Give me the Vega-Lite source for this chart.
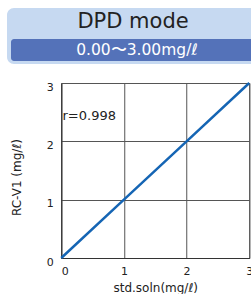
{
  "$schema": "https://vega.github.io/schema/vega-lite/v6.json",
  "padding": {"left": 7, "top": 8, "right": 0, "bottom": 0},
  "background": "white",
  "spacing": 13,
  "bounds": "full",
  "center": true,
  "config": {"font": "DejaVu Sans", "view": {"stroke": null}},
  "vconcat": [
    {
      "width": 302,
      "height": 56,
      "view": {"fill": "#c6d9f1", "cornerRadius": 7, "stroke": null},
      "data": {"values": [
        {"label": "DPD mode", "kind": "title"},
        {"label": "0.00〜3.00mg/ℓ", "kind": "range"}
      ]},
      "layer": [
        {
          "transform": [{"filter": "datum.kind === 'range'"}],
          "mark": {"type": "rect", "fill": "#5472b9", "cornerRadius": 3},
          "encoding": {
            "x": {"field": "kind", "type": "nominal", "scale": {"type": "band", "paddingInner": 0, "paddingOuter": 0.0136}, "axis": null},
            "y": {"field": "kind", "type": "nominal", "scale": {"type": "band", "domain": ["title", "range"], "paddingInner": 0.214, "paddingOuter": 0.107}, "axis": null}
          }
        },
        {
          "transform": [{"filter": "datum.kind === 'title'"}],
          "mark": {"type": "text", "fontSize": 21, "color": "#222222", "dx": -25},
          "encoding": {
            "y": {"field": "kind", "type": "nominal", "scale": {"type": "band", "domain": ["title", "range"], "paddingInner": 0.214, "paddingOuter": 0.107}, "axis": null},
            "text": {"field": "label"}
          }
        },
        {
          "transform": [{"filter": "datum.kind === 'range'"}],
          "mark": {"type": "text", "fontSize": 15.5, "color": "#ffffff", "dx": -21},
          "encoding": {
            "y": {"field": "kind", "type": "nominal", "scale": {"type": "band", "domain": ["title", "range"], "paddingInner": 0.214, "paddingOuter": 0.107}, "axis": null},
            "text": {"field": "label"}
          }
        }
      ]
    },
    {
      "width": 188,
      "height": 175,
      "view": {"stroke": "#555555", "strokeWidth": 1},
      "layer": [
        {
          "data": {"values": [
            {"std": 0, "rc": 0},
            {"std": 1, "rc": 1},
            {"std": 2, "rc": 2},
            {"std": 3, "rc": 3}
          ]},
          "mark": {"type": "line", "color": "#1565b4", "strokeWidth": 2.5},
          "encoding": {
            "x": {
              "field": "std", "type": "quantitative",
              "scale": {"domain": [0, 3], "nice": false},
              "axis": {
                "values": [0, 1, 2, 3], "format": "d", "title": "std.soln(mg/ℓ)", "grid": true,
                "gridColor": "#555555", "gridOpacity": 1, "domainColor": "#333333",
                "ticks": false, "labelFlush": false,
                "labelAlign": {"expr": "datum.value === 0 ? 'left' : 'center'"},
                "labelPadding": 7, "labelFontSize": 11, "labelColor": "#222222",
                "titleFontSize": 12, "titleFontWeight": "normal", "titleColor": "#222222", "titlePadding": 6
              }
            },
            "y": {
              "field": "rc", "type": "quantitative",
              "scale": {"domain": [0, 3], "nice": false},
              "axis": {
                "values": [0, 1, 2, 3], "format": "d", "title": "RC-V1 (mg/ℓ)", "grid": true,
                "gridColor": "#555555", "gridOpacity": 1, "domainColor": "#333333",
                "ticks": false, "labelPadding": 8, "labelOffset": 4, "labelBaseline": "middle",
                "labelFontSize": 11, "labelColor": "#222222",
                "titleFontSize": 12, "titleFontWeight": "normal", "titleColor": "#222222",
                "titleX": -38, "titleY": 94, "titleBaseline": "bottom", "titleAngle": -90, "titleAlign": "center"
              }
            }
          }
        },
        {
          "data": {"values": [{"label": "r=0.998"}]},
          "mark": {"type": "text", "align": "left", "baseline": "middle", "fontSize": 13, "color": "#222222"},
          "encoding": {
            "x": {"datum": 0.02, "type": "quantitative"},
            "y": {"datum": 2.43, "type": "quantitative"},
            "text": {"field": "label"}
          }
        }
      ]
    }
  ]
}
